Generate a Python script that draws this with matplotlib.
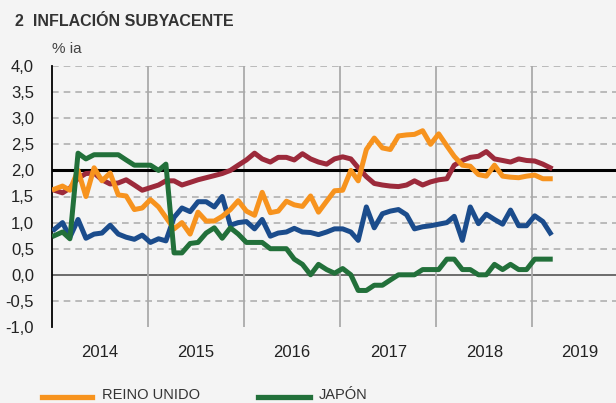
import matplotlib
matplotlib.use("Agg")
import matplotlib.pyplot as plt
import matplotlib.dates as mdates
from matplotlib.lines import Line2D
from matplotlib.ticker import FixedLocator
import pandas as pd
import datetime as dt

plt.rcParams['font.family'] = ['Liberation Sans', 'DejaVu Sans']

# Monthly data, Jan 2014 - Mar 2019 (% ia)
meses = pd.date_range('2014-01-01', periods=63, freq='MS') + pd.Timedelta(days=9)

eeuu = [1.62, 1.57, 1.66, 1.85, 1.94, 1.95, 1.82, 1.74, 1.76, 1.82, 1.72, 1.62,
        1.67, 1.72, 1.8, 1.8, 1.72, 1.77, 1.82, 1.86, 1.9, 1.94, 2.0, 2.1,
        2.2, 2.33, 2.22, 2.16, 2.25, 2.25, 2.2, 2.32, 2.22, 2.16, 2.12, 2.22,
        2.26, 2.22, 2.05, 1.88, 1.75, 1.72, 1.7, 1.69, 1.72, 1.8, 1.72, 1.78,
        1.82, 1.84, 2.1, 2.19, 2.25, 2.27, 2.36, 2.22, 2.19, 2.16, 2.22, 2.19,
        2.18, 2.12, 2.05]

uem = [0.87, 1.0, 0.72, 1.06, 0.7, 0.78, 0.8, 0.95, 0.78, 0.72, 0.68, 0.76,
       0.62, 0.69, 0.65, 1.1, 1.28, 1.21, 1.4, 1.4, 1.3, 1.5, 0.95, 1.0,
       1.02, 0.88, 1.06, 0.74, 0.8, 0.82, 0.89, 0.82, 0.81, 0.77, 0.82, 0.88,
       0.88, 0.82, 0.66, 1.3, 0.9, 1.17, 1.22, 1.25, 1.15, 0.88, 0.92, 0.94,
       0.97, 1.0, 1.12, 0.66, 1.3, 0.98, 1.16, 1.06, 0.97, 1.24, 0.94, 0.94,
       1.13, 1.02, 0.8]

reino_unido = [1.64, 1.7, 1.62, 2.0, 1.5, 2.05, 1.8, 1.95, 1.53, 1.51, 1.25, 1.28,
               1.44, 1.3, 1.1, 0.88, 1.0, 0.78, 1.2, 1.03, 1.03, 1.12, 1.25, 1.42,
               1.22, 1.14, 1.58, 1.19, 1.22, 1.41, 1.34, 1.31, 1.51, 1.2, 1.41, 1.61,
               1.62, 2.0, 1.8, 2.4, 2.62, 2.43, 2.4, 2.66, 2.68, 2.69, 2.76, 2.5,
               2.7, 2.47, 2.27, 2.1, 2.08, 1.92, 1.89, 2.1, 1.89, 1.87, 1.86, 1.89,
               1.91, 1.84, 1.84]

japon = [0.75, 0.82, 0.69, 2.33, 2.22, 2.3, 2.3, 2.3, 2.3, 2.2, 2.1, 2.1,
         2.1, 2.0, 2.12, 0.42, 0.42, 0.6, 0.62, 0.8, 0.9, 0.7, 0.9, 0.78,
         0.62, 0.62, 0.62, 0.5, 0.5, 0.5, 0.3, 0.2, 0.0, 0.2, 0.1, 0.03,
         0.12, 0.0, -0.3, -0.3, -0.2, -0.2, -0.1, 0.0, 0.0, 0.0, 0.1, 0.1,
         0.1, 0.3, 0.3, 0.1, 0.1, 0.0, 0.0, 0.2, 0.1, 0.2, 0.1, 0.1,
         0.3, 0.3, 0.3]

anios = [2014, 2015, 2016, 2017, 2018, 2019]
yticks = [-1.0, -0.5, 0.0, 0.5, 1.0, 1.5, 2.0, 2.5, 3.0, 3.5, 4.0]

bg = '#f4f4f4'
c_rojo = '#9c2a3b'
c_azul = '#1b4c8c'
c_naranja = '#f7931e'
c_verde = '#22703a'

fig = plt.figure(figsize=(6.16, 4.03), dpi=100, facecolor=bg)
ax = fig.add_axes([52 / 616, 1 - 327 / 403, 1 - 52 / 616, (327 - 66) / 403])
ax.set_facecolor(bg)

# grid: dashed horizontals, solid at 0 and 2
for v in yticks:
    if v in (-1.0, 0.0, 2.0):
        continue
    ax.axhline(v, color='#b0b0b0', lw=1.2, ls=(0, (4, 3)), zorder=1)
ax.axhline(0.0, color='#555555', lw=1.2, zorder=1)
for a in anios[1:]:
    ax.axvline(dt.datetime(a, 1, 1), color='#aaaaaa', lw=1.3, zorder=1)
ax.axhline(2.0, color='black', lw=2.2, zorder=2)

lw = 3.6
ax.plot(meses, eeuu, color=c_rojo, lw=lw, zorder=3)
ax.plot(meses, uem, color=c_azul, lw=lw, zorder=4)
ax.plot(meses, reino_unido, color=c_naranja, lw=lw, zorder=5)
ax.plot(meses, japon, color=c_verde, lw=lw, zorder=6)

ax.set_ylim(-1.0, 4.0)
ax.set_xlim(dt.datetime(2014, 1, 1), dt.datetime(2019, 11, 15))
ax.set_yticks(yticks)
ax.set_yticklabels([f'{v:.1f}'.replace('.', ',') for v in yticks])

ax.xaxis.set_major_locator(FixedLocator([mdates.date2num(dt.datetime(a, 7, 2)) for a in anios]))
ax.set_xticklabels([str(a) for a in anios])
ax.tick_params(axis='both', length=0, labelsize=12, colors='#222222')
ax.tick_params(axis='y', pad=13)
ax.tick_params(axis='x', pad=13)

for s in ('top', 'right', 'bottom'):
    ax.spines[s].set_visible(False)
ax.spines['left'].set_linewidth(1.3)
ax.spines['left'].set_color('black')

fig.text(15 / 616, 1 - 21 / 403, '2  INFLACIÓN SUBYACENTE', fontsize=11.5,
         fontweight='bold', color='#333333', va='center', ha='left')
fig.text(52 / 616, 1 - 49 / 403, '% ia', fontsize=11, color='#444444',
         va='center', ha='left')

# legend along the bottom edge
def fy(p):
    return 1 - p / 403

fig.add_artist(Line2D([42 / 616, 92 / 616], [fy(397), fy(397)], color=c_naranja,
                      lw=3.8, transform=fig.transFigure))
fig.text(102 / 616, fy(402), 'REINO UNIDO', fontsize=10.5, color='#333333',
         va='bottom', ha='left')
fig.add_artist(Line2D([258 / 616, 310 / 616], [fy(397), fy(397)], color=c_verde,
                      lw=3.8, transform=fig.transFigure))
fig.text(319 / 616, fy(402), 'JAPÓN', fontsize=10.5, color='#333333',
         va='bottom', ha='left')

fig.savefig('out.png', dpi=100, facecolor=bg)
